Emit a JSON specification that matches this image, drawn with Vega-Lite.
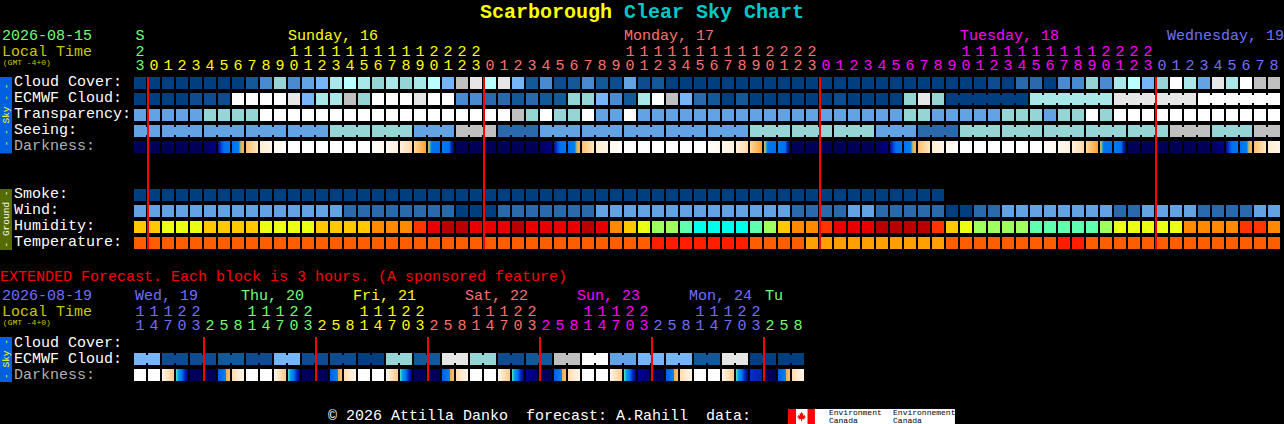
{
"$schema":"https://vega.github.io/schema/vega-lite/v6.json",
"width":1284,"height":424,"padding":0,"autosize":{"type":"none"},"background":"#000000",
"config":{"view":{"stroke":null},"text":{"font":"Liberation Mono"}},
"datasets":{
"boxes":[
{"col":-10,"col2":-9.143,"row":-0.375,"row2":4.4,"tone":"skybar"},
{"col":-10,"col2":-9.143,"row":6.625,"row2":10.44,"tone":"groundbar"},
{"col":-10,"col2":-9.143,"row":15.875,"row2":18.69,"tone":"skybar"},
{"col":46.29,"col2":58.21,"row":20.375,"row2":21.3125,"tone":"K"},
{"col":46.29,"col2":46.86,"row":20.375,"row2":21.3125,"tone":"red"},
{"col":47.68,"col2":48.21,"row":20.375,"row2":21.3125,"tone":"red"}],
"rules":[
{"col":1,"row":-0.375,"row2":10.375,"tone":"red"},{"col":25,"row":-0.375,"row2":10.375,"tone":"red"},{"col":49,"row":-0.375,"row2":10.375,"tone":"red"},{"col":73,"row":-0.375,"row2":10.375,"tone":"red"},
{"col":5,"row":15.875,"row2":18.625,"tone":"red"},{"col":13,"row":15.875,"row2":18.625,"tone":"red"},{"col":21,"row":15.875,"row2":18.625,"tone":"red"},{"col":29,"row":15.875,"row2":18.625,"tone":"red"},{"col":37,"row":15.875,"row2":18.625,"tone":"red"},{"col":45,"row":15.875,"row2":18.625,"tone":"red"}],
"links":[
{"row":3,"col":0,"tone":"F"},{"row":3,"col":2,"tone":"F"},{"row":3,"col":3,"tone":"F"},{"row":3,"col":5,"tone":"F"},{"row":3,"col":6,"tone":"F"},{"row":3,"col":8,"tone":"F"},{"row":3,"col":9,"tone":"F"},{"row":3,"col":11,"tone":"F"},{"row":3,"col":12,"tone":"F"},{"row":3,"col":14,"tone":"H"},{"row":3,"col":15,"tone":"H"},{"row":3,"col":17,"tone":"H"},{"row":3,"col":18,"tone":"H"},{"row":3,"col":20,"tone":"F"},{"row":3,"col":21,"tone":"F"},{"row":3,"col":23,"tone":"M"},{"row":3,"col":24,"tone":"M"},{"row":3,"col":26,"tone":"D"},{"row":3,"col":27,"tone":"D"},{"row":3,"col":29,"tone":"F"},{"row":3,"col":30,"tone":"F"},{"row":3,"col":32,"tone":"F"},{"row":3,"col":33,"tone":"F"},{"row":3,"col":35,"tone":"F"},{"row":3,"col":36,"tone":"F"},{"row":3,"col":38,"tone":"F"},{"row":3,"col":39,"tone":"F"},{"row":3,"col":41,"tone":"F"},{"row":3,"col":42,"tone":"F"},{"row":3,"col":44,"tone":"H"},{"row":3,"col":45,"tone":"H"},{"row":3,"col":47,"tone":"H"},{"row":3,"col":48,"tone":"H"},{"row":3,"col":50,"tone":"H"},{"row":3,"col":51,"tone":"H"},{"row":3,"col":53,"tone":"F"},{"row":3,"col":54,"tone":"F"},{"row":3,"col":56,"tone":"D"},{"row":3,"col":57,"tone":"D"},{"row":3,"col":59,"tone":"H"},{"row":3,"col":60,"tone":"H"},{"row":3,"col":62,"tone":"H"},{"row":3,"col":63,"tone":"H"},{"row":3,"col":65,"tone":"H"},{"row":3,"col":66,"tone":"H"},{"row":3,"col":68,"tone":"H"},{"row":3,"col":69,"tone":"H"},{"row":3,"col":71,"tone":"H"},{"row":3,"col":72,"tone":"H"},{"row":3,"col":74,"tone":"M"},{"row":3,"col":75,"tone":"M"},{"row":3,"col":77,"tone":"H"},{"row":3,"col":78,"tone":"H"},{"row":3,"col":80,"tone":"M"},
{"row":1,"col":58,"tone":"A"},{"row":1,"col":59,"tone":"A"},{"row":1,"col":60,"tone":"A"},{"row":1,"col":61,"tone":"A"},{"row":1,"col":62,"tone":"A"},{"row":1,"col":64,"tone":"I"},{"row":1,"col":65,"tone":"I"},{"row":1,"col":66,"tone":"I"},{"row":1,"col":67,"tone":"I"},{"row":1,"col":68,"tone":"I"},{"row":1,"col":70,"tone":"L"},{"row":1,"col":71,"tone":"L"},{"row":1,"col":72,"tone":"L"},{"row":1,"col":73,"tone":"L"},{"row":1,"col":74,"tone":"L"},{"row":1,"col":76,"tone":"K"},{"row":1,"col":77,"tone":"K"},{"row":1,"col":78,"tone":"K"},{"row":1,"col":79,"tone":"K"},{"row":1,"col":80,"tone":"K"},
{"row":17.25,"col":0,"tone":"G"},{"row":17.25,"col":2,"tone":"B"},{"row":17.25,"col":4,"tone":"B"},{"row":17.25,"col":6,"tone":"C"},{"row":17.25,"col":8,"tone":"B"},{"row":17.25,"col":10,"tone":"G"},{"row":17.25,"col":12,"tone":"B"},{"row":17.25,"col":14,"tone":"B"},{"row":17.25,"col":16,"tone":"A"},{"row":17.25,"col":18,"tone":"H"},{"row":17.25,"col":20,"tone":"C"},{"row":17.25,"col":22,"tone":"L"},{"row":17.25,"col":24,"tone":"H"},{"row":17.25,"col":26,"tone":"B"},{"row":17.25,"col":28,"tone":"C"},{"row":17.25,"col":30,"tone":"M"},{"row":17.25,"col":32,"tone":"K"},{"row":17.25,"col":34,"tone":"F"},{"row":17.25,"col":36,"tone":"G"},{"row":17.25,"col":38,"tone":"G"},{"row":17.25,"col":40,"tone":"C"},{"row":17.25,"col":42,"tone":"L"},{"row":17.25,"col":44,"tone":"A"},{"row":17.25,"col":46,"tone":"A"}],
"cells":[
{"row":0,"col":0,"tone":"A"},{"row":0,"col":1,"tone":"A"},{"row":0,"col":2,"tone":"A"},{"row":0,"col":3,"tone":"A"},{"row":0,"col":4,"tone":"A"},{"row":0,"col":5,"tone":"A"},{"row":0,"col":6,"tone":"A"},{"row":0,"col":7,"tone":"A"},{"row":0,"col":8,"tone":"C"},{"row":0,"col":9,"tone":"E"},{"row":0,"col":10,"tone":"H"},{"row":0,"col":11,"tone":"E"},{"row":0,"col":12,"tone":"F"},{"row":0,"col":13,"tone":"G"},{"row":0,"col":14,"tone":"I"},{"row":0,"col":15,"tone":"J"},{"row":0,"col":16,"tone":"I"},{"row":0,"col":17,"tone":"H"},{"row":0,"col":18,"tone":"I"},{"row":0,"col":19,"tone":"H"},{"row":0,"col":20,"tone":"I"},{"row":0,"col":21,"tone":"J"},{"row":0,"col":22,"tone":"G"},{"row":0,"col":23,"tone":"M"},{"row":0,"col":24,"tone":"L"},{"row":0,"col":25,"tone":"J"},{"row":0,"col":26,"tone":"L"},{"row":0,"col":27,"tone":"G"},{"row":0,"col":28,"tone":"C"},{"row":0,"col":29,"tone":"E"},{"row":0,"col":30,"tone":"B"},{"row":0,"col":31,"tone":"C"},{"row":0,"col":32,"tone":"E"},{"row":0,"col":33,"tone":"C"},{"row":0,"col":34,"tone":"B"},{"row":0,"col":35,"tone":"F"},{"row":0,"col":36,"tone":"B"},{"row":0,"col":37,"tone":"C"},{"row":0,"col":38,"tone":"A"},{"row":0,"col":39,"tone":"A"},{"row":0,"col":40,"tone":"A"},{"row":0,"col":41,"tone":"A"},{"row":0,"col":42,"tone":"A"},{"row":0,"col":43,"tone":"A"},{"row":0,"col":44,"tone":"A"},{"row":0,"col":45,"tone":"A"},{"row":0,"col":46,"tone":"A"},{"row":0,"col":47,"tone":"A"},{"row":0,"col":48,"tone":"A"},{"row":0,"col":49,"tone":"A"},{"row":0,"col":50,"tone":"A"},{"row":0,"col":51,"tone":"A"},{"row":0,"col":52,"tone":"A"},{"row":0,"col":53,"tone":"A"},{"row":0,"col":54,"tone":"A"},{"row":0,"col":55,"tone":"A"},{"row":0,"col":56,"tone":"A"},{"row":0,"col":57,"tone":"A"},{"row":0,"col":58,"tone":"A"},{"row":0,"col":59,"tone":"A"},{"row":0,"col":60,"tone":"A"},{"row":0,"col":61,"tone":"B"},{"row":0,"col":62,"tone":"A"},{"row":0,"col":63,"tone":"D"},{"row":0,"col":64,"tone":"D"},{"row":0,"col":65,"tone":"A"},{"row":0,"col":66,"tone":"E"},{"row":0,"col":67,"tone":"E"},{"row":0,"col":68,"tone":"H"},{"row":0,"col":69,"tone":"E"},{"row":0,"col":70,"tone":"I"},{"row":0,"col":71,"tone":"J"},{"row":0,"col":72,"tone":"G"},{"row":0,"col":73,"tone":"H"},{"row":0,"col":74,"tone":"K"},{"row":0,"col":75,"tone":"I"},{"row":0,"col":76,"tone":"F"},{"row":0,"col":77,"tone":"L"},{"row":0,"col":78,"tone":"I"},{"row":0,"col":79,"tone":"K"},{"row":0,"col":80,"tone":"M"},{"row":0,"col":81,"tone":"M"},
{"row":1,"col":0,"tone":"A"},{"row":1,"col":1,"tone":"A"},{"row":1,"col":2,"tone":"A"},{"row":1,"col":3,"tone":"A"},{"row":1,"col":4,"tone":"B"},{"row":1,"col":5,"tone":"B"},{"row":1,"col":6,"tone":"B"},{"row":1,"col":7,"tone":"K"},{"row":1,"col":8,"tone":"K"},{"row":1,"col":9,"tone":"K"},{"row":1,"col":10,"tone":"K"},{"row":1,"col":11,"tone":"L"},{"row":1,"col":12,"tone":"G"},{"row":1,"col":13,"tone":"I"},{"row":1,"col":14,"tone":"I"},{"row":1,"col":15,"tone":"M"},{"row":1,"col":16,"tone":"H"},{"row":1,"col":17,"tone":"K"},{"row":1,"col":18,"tone":"K"},{"row":1,"col":19,"tone":"K"},{"row":1,"col":20,"tone":"L"},{"row":1,"col":21,"tone":"K"},{"row":1,"col":22,"tone":"K"},{"row":1,"col":23,"tone":"E"},{"row":1,"col":24,"tone":"E"},{"row":1,"col":25,"tone":"D"},{"row":1,"col":26,"tone":"D"},{"row":1,"col":27,"tone":"C"},{"row":1,"col":28,"tone":"D"},{"row":1,"col":29,"tone":"C"},{"row":1,"col":30,"tone":"C"},{"row":1,"col":31,"tone":"H"},{"row":1,"col":32,"tone":"H"},{"row":1,"col":33,"tone":"G"},{"row":1,"col":34,"tone":"E"},{"row":1,"col":35,"tone":"C"},{"row":1,"col":36,"tone":"I"},{"row":1,"col":37,"tone":"K"},{"row":1,"col":38,"tone":"M"},{"row":1,"col":39,"tone":"G"},{"row":1,"col":40,"tone":"D"},{"row":1,"col":41,"tone":"C"},{"row":1,"col":42,"tone":"A"},{"row":1,"col":43,"tone":"C"},{"row":1,"col":44,"tone":"A"},{"row":1,"col":45,"tone":"A"},{"row":1,"col":46,"tone":"A"},{"row":1,"col":47,"tone":"A"},{"row":1,"col":48,"tone":"A"},{"row":1,"col":49,"tone":"A"},{"row":1,"col":50,"tone":"B"},{"row":1,"col":51,"tone":"A"},{"row":1,"col":52,"tone":"A"},{"row":1,"col":53,"tone":"A"},{"row":1,"col":54,"tone":"A"},{"row":1,"col":55,"tone":"H"},{"row":1,"col":56,"tone":"L"},{"row":1,"col":57,"tone":"H"},{"row":1,"col":58,"tone":"A"},{"row":1,"col":59,"tone":"A"},{"row":1,"col":60,"tone":"A"},{"row":1,"col":61,"tone":"A"},{"row":1,"col":62,"tone":"A"},{"row":1,"col":63,"tone":"A"},{"row":1,"col":64,"tone":"I"},{"row":1,"col":65,"tone":"I"},{"row":1,"col":66,"tone":"I"},{"row":1,"col":67,"tone":"I"},{"row":1,"col":68,"tone":"I"},{"row":1,"col":69,"tone":"I"},{"row":1,"col":70,"tone":"L"},{"row":1,"col":71,"tone":"L"},{"row":1,"col":72,"tone":"L"},{"row":1,"col":73,"tone":"L"},{"row":1,"col":74,"tone":"L"},{"row":1,"col":75,"tone":"L"},{"row":1,"col":76,"tone":"K"},{"row":1,"col":77,"tone":"K"},{"row":1,"col":78,"tone":"K"},{"row":1,"col":79,"tone":"K"},{"row":1,"col":80,"tone":"K"},{"row":1,"col":81,"tone":"K"},
{"row":2,"col":0,"tone":"F"},{"row":2,"col":1,"tone":"F"},{"row":2,"col":2,"tone":"F"},{"row":2,"col":3,"tone":"F"},{"row":2,"col":4,"tone":"F"},{"row":2,"col":5,"tone":"H"},{"row":2,"col":6,"tone":"H"},{"row":2,"col":7,"tone":"H"},{"row":2,"col":8,"tone":"H"},{"row":2,"col":9,"tone":"K"},{"row":2,"col":10,"tone":"K"},{"row":2,"col":11,"tone":"K"},{"row":2,"col":12,"tone":"K"},{"row":2,"col":13,"tone":"K"},{"row":2,"col":14,"tone":"K"},{"row":2,"col":15,"tone":"K"},{"row":2,"col":16,"tone":"K"},{"row":2,"col":17,"tone":"K"},{"row":2,"col":18,"tone":"K"},{"row":2,"col":19,"tone":"K"},{"row":2,"col":20,"tone":"K"},{"row":2,"col":21,"tone":"K"},{"row":2,"col":22,"tone":"K"},{"row":2,"col":23,"tone":"K"},{"row":2,"col":24,"tone":"K"},{"row":2,"col":25,"tone":"K"},{"row":2,"col":26,"tone":"K"},{"row":2,"col":27,"tone":"M"},{"row":2,"col":28,"tone":"H"},{"row":2,"col":29,"tone":"K"},{"row":2,"col":30,"tone":"H"},{"row":2,"col":31,"tone":"H"},{"row":2,"col":32,"tone":"K"},{"row":2,"col":33,"tone":"F"},{"row":2,"col":34,"tone":"F"},{"row":2,"col":35,"tone":"K"},{"row":2,"col":36,"tone":"F"},{"row":2,"col":37,"tone":"F"},{"row":2,"col":38,"tone":"F"},{"row":2,"col":39,"tone":"F"},{"row":2,"col":40,"tone":"F"},{"row":2,"col":41,"tone":"F"},{"row":2,"col":42,"tone":"F"},{"row":2,"col":43,"tone":"F"},{"row":2,"col":44,"tone":"F"},{"row":2,"col":45,"tone":"F"},{"row":2,"col":46,"tone":"F"},{"row":2,"col":47,"tone":"F"},{"row":2,"col":48,"tone":"F"},{"row":2,"col":49,"tone":"F"},{"row":2,"col":50,"tone":"F"},{"row":2,"col":51,"tone":"F"},{"row":2,"col":52,"tone":"F"},{"row":2,"col":53,"tone":"F"},{"row":2,"col":54,"tone":"F"},{"row":2,"col":55,"tone":"H"},{"row":2,"col":56,"tone":"H"},{"row":2,"col":57,"tone":"F"},{"row":2,"col":58,"tone":"F"},{"row":2,"col":59,"tone":"F"},{"row":2,"col":60,"tone":"F"},{"row":2,"col":61,"tone":"F"},{"row":2,"col":62,"tone":"H"},{"row":2,"col":63,"tone":"H"},{"row":2,"col":64,"tone":"H"},{"row":2,"col":65,"tone":"F"},{"row":2,"col":66,"tone":"H"},{"row":2,"col":67,"tone":"H"},{"row":2,"col":68,"tone":"K"},{"row":2,"col":69,"tone":"H"},{"row":2,"col":70,"tone":"K"},{"row":2,"col":71,"tone":"K"},{"row":2,"col":72,"tone":"K"},{"row":2,"col":73,"tone":"K"},{"row":2,"col":74,"tone":"K"},{"row":2,"col":75,"tone":"K"},{"row":2,"col":76,"tone":"K"},{"row":2,"col":77,"tone":"K"},{"row":2,"col":78,"tone":"K"},{"row":2,"col":79,"tone":"K"},{"row":2,"col":80,"tone":"K"},{"row":2,"col":81,"tone":"K"},
{"row":3,"col":0,"tone":"F"},{"row":3,"col":1,"tone":"F"},{"row":3,"col":2,"tone":"F"},{"row":3,"col":3,"tone":"F"},{"row":3,"col":4,"tone":"F"},{"row":3,"col":5,"tone":"F"},{"row":3,"col":6,"tone":"F"},{"row":3,"col":7,"tone":"F"},{"row":3,"col":8,"tone":"F"},{"row":3,"col":9,"tone":"F"},{"row":3,"col":10,"tone":"F"},{"row":3,"col":11,"tone":"F"},{"row":3,"col":12,"tone":"F"},{"row":3,"col":13,"tone":"F"},{"row":3,"col":14,"tone":"H"},{"row":3,"col":15,"tone":"H"},{"row":3,"col":16,"tone":"H"},{"row":3,"col":17,"tone":"H"},{"row":3,"col":18,"tone":"H"},{"row":3,"col":19,"tone":"H"},{"row":3,"col":20,"tone":"F"},{"row":3,"col":21,"tone":"F"},{"row":3,"col":22,"tone":"F"},{"row":3,"col":23,"tone":"M"},{"row":3,"col":24,"tone":"M"},{"row":3,"col":25,"tone":"M"},{"row":3,"col":26,"tone":"D"},{"row":3,"col":27,"tone":"D"},{"row":3,"col":28,"tone":"D"},{"row":3,"col":29,"tone":"F"},{"row":3,"col":30,"tone":"F"},{"row":3,"col":31,"tone":"F"},{"row":3,"col":32,"tone":"F"},{"row":3,"col":33,"tone":"F"},{"row":3,"col":34,"tone":"F"},{"row":3,"col":35,"tone":"F"},{"row":3,"col":36,"tone":"F"},{"row":3,"col":37,"tone":"F"},{"row":3,"col":38,"tone":"F"},{"row":3,"col":39,"tone":"F"},{"row":3,"col":40,"tone":"F"},{"row":3,"col":41,"tone":"F"},{"row":3,"col":42,"tone":"F"},{"row":3,"col":43,"tone":"F"},{"row":3,"col":44,"tone":"H"},{"row":3,"col":45,"tone":"H"},{"row":3,"col":46,"tone":"H"},{"row":3,"col":47,"tone":"H"},{"row":3,"col":48,"tone":"H"},{"row":3,"col":49,"tone":"H"},{"row":3,"col":50,"tone":"H"},{"row":3,"col":51,"tone":"H"},{"row":3,"col":52,"tone":"H"},{"row":3,"col":53,"tone":"F"},{"row":3,"col":54,"tone":"F"},{"row":3,"col":55,"tone":"F"},{"row":3,"col":56,"tone":"D"},{"row":3,"col":57,"tone":"D"},{"row":3,"col":58,"tone":"D"},{"row":3,"col":59,"tone":"H"},{"row":3,"col":60,"tone":"H"},{"row":3,"col":61,"tone":"H"},{"row":3,"col":62,"tone":"H"},{"row":3,"col":63,"tone":"H"},{"row":3,"col":64,"tone":"H"},{"row":3,"col":65,"tone":"H"},{"row":3,"col":66,"tone":"H"},{"row":3,"col":67,"tone":"H"},{"row":3,"col":68,"tone":"H"},{"row":3,"col":69,"tone":"H"},{"row":3,"col":70,"tone":"H"},{"row":3,"col":71,"tone":"H"},{"row":3,"col":72,"tone":"H"},{"row":3,"col":73,"tone":"H"},{"row":3,"col":74,"tone":"M"},{"row":3,"col":75,"tone":"M"},{"row":3,"col":76,"tone":"M"},{"row":3,"col":77,"tone":"H"},{"row":3,"col":78,"tone":"H"},{"row":3,"col":79,"tone":"H"},{"row":3,"col":80,"tone":"M"},{"row":3,"col":81,"tone":"M"},
{"row":4,"col":0,"tone":"n"},{"row":4,"col":1,"tone":"n"},{"row":4,"col":2,"tone":"n"},{"row":4,"col":3,"tone":"n"},{"row":4,"col":4,"tone":"n"},{"row":4,"col":5,"tone":"n1"},{"row":4,"col":6,"tone":"d1"},{"row":4,"col":7,"tone":"d2"},{"row":4,"col":8,"tone":"d3"},{"row":4,"col":9,"tone":"d4"},{"row":4,"col":10,"tone":"d5"},{"row":4,"col":11,"tone":"K"},{"row":4,"col":12,"tone":"K"},{"row":4,"col":13,"tone":"K"},{"row":4,"col":14,"tone":"K"},{"row":4,"col":15,"tone":"K"},{"row":4,"col":16,"tone":"K"},{"row":4,"col":17,"tone":"s1"},{"row":4,"col":18,"tone":"s2"},{"row":4,"col":19,"tone":"s3"},{"row":4,"col":20,"tone":"s4"},{"row":4,"col":21,"tone":"s5"},{"row":4,"col":22,"tone":"s6"},{"row":4,"col":23,"tone":"n"},
{"row":4,"col":24,"tone":"n"},{"row":4,"col":25,"tone":"n"},{"row":4,"col":26,"tone":"n"},{"row":4,"col":27,"tone":"n"},{"row":4,"col":28,"tone":"n"},{"row":4,"col":29,"tone":"n1"},{"row":4,"col":30,"tone":"d1"},{"row":4,"col":31,"tone":"d2"},{"row":4,"col":32,"tone":"d3"},{"row":4,"col":33,"tone":"d4"},{"row":4,"col":34,"tone":"d5"},{"row":4,"col":35,"tone":"K"},{"row":4,"col":36,"tone":"K"},{"row":4,"col":37,"tone":"K"},{"row":4,"col":38,"tone":"K"},{"row":4,"col":39,"tone":"K"},{"row":4,"col":40,"tone":"K"},{"row":4,"col":41,"tone":"s1"},{"row":4,"col":42,"tone":"s2"},{"row":4,"col":43,"tone":"s3"},{"row":4,"col":44,"tone":"s4"},{"row":4,"col":45,"tone":"s5"},{"row":4,"col":46,"tone":"s6"},{"row":4,"col":47,"tone":"n"},
{"row":4,"col":48,"tone":"n"},{"row":4,"col":49,"tone":"n"},{"row":4,"col":50,"tone":"n"},{"row":4,"col":51,"tone":"n"},{"row":4,"col":52,"tone":"n"},{"row":4,"col":53,"tone":"n1"},{"row":4,"col":54,"tone":"d1"},{"row":4,"col":55,"tone":"d2"},{"row":4,"col":56,"tone":"d3"},{"row":4,"col":57,"tone":"d4"},{"row":4,"col":58,"tone":"d5"},{"row":4,"col":59,"tone":"K"},{"row":4,"col":60,"tone":"K"},{"row":4,"col":61,"tone":"K"},{"row":4,"col":62,"tone":"K"},{"row":4,"col":63,"tone":"K"},{"row":4,"col":64,"tone":"K"},{"row":4,"col":65,"tone":"s1"},{"row":4,"col":66,"tone":"s2"},{"row":4,"col":67,"tone":"s3"},{"row":4,"col":68,"tone":"s4"},{"row":4,"col":69,"tone":"s5"},{"row":4,"col":70,"tone":"s6"},{"row":4,"col":71,"tone":"n"},
{"row":4,"col":72,"tone":"n"},{"row":4,"col":73,"tone":"n"},{"row":4,"col":74,"tone":"n"},{"row":4,"col":75,"tone":"n"},{"row":4,"col":76,"tone":"n"},{"row":4,"col":77,"tone":"n1"},{"row":4,"col":78,"tone":"d1"},{"row":4,"col":79,"tone":"d2"},{"row":4,"col":80,"tone":"d3"},{"row":4,"col":81,"tone":"d4"},
{"row":7,"col":0,"tone":"A"},{"row":7,"col":1,"tone":"A"},{"row":7,"col":2,"tone":"A"},{"row":7,"col":3,"tone":"A"},{"row":7,"col":4,"tone":"A"},{"row":7,"col":5,"tone":"A"},{"row":7,"col":6,"tone":"A"},{"row":7,"col":7,"tone":"A"},{"row":7,"col":8,"tone":"A"},{"row":7,"col":9,"tone":"A"},{"row":7,"col":10,"tone":"A"},{"row":7,"col":11,"tone":"A"},{"row":7,"col":12,"tone":"A"},{"row":7,"col":13,"tone":"A"},{"row":7,"col":14,"tone":"A"},{"row":7,"col":15,"tone":"A"},{"row":7,"col":16,"tone":"A"},{"row":7,"col":17,"tone":"A"},{"row":7,"col":18,"tone":"A"},{"row":7,"col":19,"tone":"A"},{"row":7,"col":20,"tone":"A"},{"row":7,"col":21,"tone":"A"},{"row":7,"col":22,"tone":"A"},{"row":7,"col":23,"tone":"A"},{"row":7,"col":24,"tone":"A"},{"row":7,"col":25,"tone":"A"},{"row":7,"col":26,"tone":"A"},{"row":7,"col":27,"tone":"A"},{"row":7,"col":28,"tone":"A"},{"row":7,"col":29,"tone":"A"},{"row":7,"col":30,"tone":"A"},{"row":7,"col":31,"tone":"A"},{"row":7,"col":32,"tone":"A"},{"row":7,"col":33,"tone":"A"},{"row":7,"col":34,"tone":"A"},{"row":7,"col":35,"tone":"A"},{"row":7,"col":36,"tone":"A"},{"row":7,"col":37,"tone":"A"},{"row":7,"col":38,"tone":"A"},{"row":7,"col":39,"tone":"A"},{"row":7,"col":40,"tone":"A"},{"row":7,"col":41,"tone":"A"},{"row":7,"col":42,"tone":"A"},{"row":7,"col":43,"tone":"A"},{"row":7,"col":44,"tone":"A"},{"row":7,"col":45,"tone":"A"},{"row":7,"col":46,"tone":"A"},{"row":7,"col":47,"tone":"A"},{"row":7,"col":48,"tone":"A"},{"row":7,"col":49,"tone":"A"},{"row":7,"col":50,"tone":"A"},{"row":7,"col":51,"tone":"A"},{"row":7,"col":52,"tone":"A"},{"row":7,"col":53,"tone":"A"},{"row":7,"col":54,"tone":"A"},{"row":7,"col":55,"tone":"A"},{"row":7,"col":56,"tone":"A"},{"row":7,"col":57,"tone":"A"},
{"row":8,"col":0,"tone":"F"},{"row":8,"col":1,"tone":"F"},{"row":8,"col":2,"tone":"F"},{"row":8,"col":3,"tone":"F"},{"row":8,"col":4,"tone":"F"},{"row":8,"col":5,"tone":"F"},{"row":8,"col":6,"tone":"F"},{"row":8,"col":7,"tone":"F"},{"row":8,"col":8,"tone":"F"},{"row":8,"col":9,"tone":"F"},{"row":8,"col":10,"tone":"F"},{"row":8,"col":11,"tone":"F"},{"row":8,"col":12,"tone":"F"},{"row":8,"col":13,"tone":"F"},{"row":8,"col":14,"tone":"F"},{"row":8,"col":15,"tone":"D"},{"row":8,"col":16,"tone":"D"},{"row":8,"col":17,"tone":"D"},{"row":8,"col":18,"tone":"D"},{"row":8,"col":19,"tone":"D"},{"row":8,"col":20,"tone":"D"},{"row":8,"col":21,"tone":"D"},{"row":8,"col":22,"tone":"D"},{"row":8,"col":23,"tone":"A"},{"row":8,"col":24,"tone":"A"},{"row":8,"col":25,"tone":"A"},{"row":8,"col":26,"tone":"D"},{"row":8,"col":27,"tone":"D"},{"row":8,"col":28,"tone":"D"},{"row":8,"col":29,"tone":"D"},{"row":8,"col":30,"tone":"D"},{"row":8,"col":31,"tone":"D"},{"row":8,"col":32,"tone":"D"},{"row":8,"col":33,"tone":"F"},{"row":8,"col":34,"tone":"F"},{"row":8,"col":35,"tone":"F"},{"row":8,"col":36,"tone":"F"},{"row":8,"col":37,"tone":"F"},{"row":8,"col":38,"tone":"F"},{"row":8,"col":39,"tone":"F"},{"row":8,"col":40,"tone":"F"},{"row":8,"col":41,"tone":"F"},{"row":8,"col":42,"tone":"F"},{"row":8,"col":43,"tone":"F"},{"row":8,"col":44,"tone":"F"},{"row":8,"col":45,"tone":"F"},{"row":8,"col":46,"tone":"F"},{"row":8,"col":47,"tone":"D"},{"row":8,"col":48,"tone":"D"},{"row":8,"col":49,"tone":"D"},{"row":8,"col":50,"tone":"D"},{"row":8,"col":51,"tone":"F"},{"row":8,"col":52,"tone":"F"},{"row":8,"col":53,"tone":"D"},{"row":8,"col":54,"tone":"D"},{"row":8,"col":55,"tone":"D"},{"row":8,"col":56,"tone":"D"},{"row":8,"col":57,"tone":"D"},{"row":8,"col":58,"tone":"A"},{"row":8,"col":59,"tone":"A"},{"row":8,"col":60,"tone":"D"},{"row":8,"col":61,"tone":"D"},{"row":8,"col":62,"tone":"F"},{"row":8,"col":63,"tone":"F"},{"row":8,"col":64,"tone":"F"},{"row":8,"col":65,"tone":"F"},{"row":8,"col":66,"tone":"F"},{"row":8,"col":67,"tone":"F"},{"row":8,"col":68,"tone":"F"},{"row":8,"col":69,"tone":"F"},{"row":8,"col":70,"tone":"D"},{"row":8,"col":71,"tone":"D"},{"row":8,"col":72,"tone":"F"},{"row":8,"col":73,"tone":"F"},{"row":8,"col":74,"tone":"F"},{"row":8,"col":75,"tone":"F"},{"row":8,"col":76,"tone":"D"},{"row":8,"col":77,"tone":"D"},{"row":8,"col":78,"tone":"D"},{"row":8,"col":79,"tone":"D"},{"row":8,"col":80,"tone":"F"},{"row":8,"col":81,"tone":"F"},
{"row":9,"col":0,"tone":"yo"},{"row":9,"col":1,"tone":"yo"},{"row":9,"col":2,"tone":"ye"},{"row":9,"col":3,"tone":"ye"},{"row":9,"col":4,"tone":"ye"},{"row":9,"col":5,"tone":"yo"},{"row":9,"col":6,"tone":"yo"},{"row":9,"col":7,"tone":"yo"},{"row":9,"col":8,"tone":"yo"},{"row":9,"col":9,"tone":"ye"},{"row":9,"col":10,"tone":"ye"},{"row":9,"col":11,"tone":"ye"},{"row":9,"col":12,"tone":"ye"},{"row":9,"col":13,"tone":"yo"},{"row":9,"col":14,"tone":"yo"},{"row":9,"col":15,"tone":"yo"},{"row":9,"col":16,"tone":"yo"},{"row":9,"col":17,"tone":"o"},{"row":9,"col":18,"tone":"o"},{"row":9,"col":19,"tone":"o"},{"row":9,"col":20,"tone":"ro"},{"row":9,"col":21,"tone":"r"},{"row":9,"col":22,"tone":"dr"},{"row":9,"col":23,"tone":"dr"},{"row":9,"col":24,"tone":"r"},{"row":9,"col":25,"tone":"r"},{"row":9,"col":26,"tone":"r"},{"row":9,"col":27,"tone":"dr"},{"row":9,"col":28,"tone":"r"},{"row":9,"col":29,"tone":"r"},{"row":9,"col":30,"tone":"r"},{"row":9,"col":31,"tone":"r"},{"row":9,"col":32,"tone":"dr"},{"row":9,"col":33,"tone":"r"},{"row":9,"col":34,"tone":"o"},{"row":9,"col":35,"tone":"yo"},{"row":9,"col":36,"tone":"ye"},{"row":9,"col":37,"tone":"lg"},{"row":9,"col":38,"tone":"lg"},{"row":9,"col":39,"tone":"mt"},{"row":9,"col":40,"tone":"cy"},{"row":9,"col":41,"tone":"cy"},{"row":9,"col":42,"tone":"cy"},{"row":9,"col":43,"tone":"cy"},{"row":9,"col":44,"tone":"mt"},{"row":9,"col":45,"tone":"lg"},{"row":9,"col":46,"tone":"yo"},{"row":9,"col":47,"tone":"o"},{"row":9,"col":48,"tone":"o"},{"row":9,"col":49,"tone":"ro"},{"row":9,"col":50,"tone":"r"},{"row":9,"col":51,"tone":"r"},{"row":9,"col":52,"tone":"r"},{"row":9,"col":53,"tone":"dr"},{"row":9,"col":54,"tone":"dr"},{"row":9,"col":55,"tone":"dr"},{"row":9,"col":56,"tone":"dr"},{"row":9,"col":57,"tone":"ro"},{"row":9,"col":58,"tone":"yo"},{"row":9,"col":59,"tone":"ye"},{"row":9,"col":60,"tone":"lg"},{"row":9,"col":61,"tone":"lg"},{"row":9,"col":62,"tone":"lg"},{"row":9,"col":63,"tone":"lg"},{"row":9,"col":64,"tone":"mt"},{"row":9,"col":65,"tone":"mt"},{"row":9,"col":66,"tone":"mt"},{"row":9,"col":67,"tone":"mt"},{"row":9,"col":68,"tone":"mt"},{"row":9,"col":69,"tone":"lg"},{"row":9,"col":70,"tone":"ye"},{"row":9,"col":71,"tone":"ye"},{"row":9,"col":72,"tone":"ye"},{"row":9,"col":73,"tone":"ye"},{"row":9,"col":74,"tone":"ye"},{"row":9,"col":75,"tone":"o"},{"row":9,"col":76,"tone":"o"},{"row":9,"col":77,"tone":"o"},{"row":9,"col":78,"tone":"o"},{"row":9,"col":79,"tone":"ro"},{"row":9,"col":80,"tone":"ro"},{"row":9,"col":81,"tone":"o"},
{"row":10,"col":0,"tone":"t1"},{"row":10,"col":1,"tone":"t1"},{"row":10,"col":2,"tone":"t1"},{"row":10,"col":3,"tone":"t1"},{"row":10,"col":4,"tone":"t1"},{"row":10,"col":5,"tone":"t1"},{"row":10,"col":6,"tone":"t1"},{"row":10,"col":7,"tone":"t1"},{"row":10,"col":8,"tone":"t1"},{"row":10,"col":9,"tone":"t1"},{"row":10,"col":10,"tone":"t1"},{"row":10,"col":11,"tone":"t1"},{"row":10,"col":12,"tone":"t1"},{"row":10,"col":13,"tone":"t1"},{"row":10,"col":14,"tone":"t1"},{"row":10,"col":15,"tone":"t1"},{"row":10,"col":16,"tone":"t1"},{"row":10,"col":17,"tone":"t1"},{"row":10,"col":18,"tone":"t1"},{"row":10,"col":19,"tone":"t1"},{"row":10,"col":20,"tone":"t1"},{"row":10,"col":21,"tone":"t1"},{"row":10,"col":22,"tone":"t1"},{"row":10,"col":23,"tone":"t1"},{"row":10,"col":24,"tone":"t1"},{"row":10,"col":25,"tone":"t1"},{"row":10,"col":26,"tone":"t1"},{"row":10,"col":27,"tone":"t1"},{"row":10,"col":28,"tone":"t1"},{"row":10,"col":29,"tone":"t1"},{"row":10,"col":30,"tone":"t1"},{"row":10,"col":31,"tone":"t1"},{"row":10,"col":32,"tone":"t1"},{"row":10,"col":33,"tone":"t1"},{"row":10,"col":34,"tone":"t1"},{"row":10,"col":35,"tone":"t1"},{"row":10,"col":36,"tone":"t1"},{"row":10,"col":37,"tone":"t2"},{"row":10,"col":38,"tone":"t2"},{"row":10,"col":39,"tone":"t2"},{"row":10,"col":40,"tone":"t2"},{"row":10,"col":41,"tone":"t2"},{"row":10,"col":42,"tone":"t2"},{"row":10,"col":43,"tone":"t2"},{"row":10,"col":44,"tone":"t1"},{"row":10,"col":45,"tone":"t1"},{"row":10,"col":46,"tone":"t1"},{"row":10,"col":47,"tone":"t1"},{"row":10,"col":48,"tone":"t3"},{"row":10,"col":49,"tone":"t3"},{"row":10,"col":50,"tone":"t3"},{"row":10,"col":51,"tone":"t3"},{"row":10,"col":52,"tone":"t3"},{"row":10,"col":53,"tone":"t3"},{"row":10,"col":54,"tone":"t3"},{"row":10,"col":55,"tone":"t3"},{"row":10,"col":56,"tone":"t3"},{"row":10,"col":57,"tone":"t3"},{"row":10,"col":58,"tone":"t1"},{"row":10,"col":59,"tone":"t1"},{"row":10,"col":60,"tone":"t1"},{"row":10,"col":61,"tone":"t1"},{"row":10,"col":62,"tone":"t1"},{"row":10,"col":63,"tone":"t1"},{"row":10,"col":64,"tone":"t1"},{"row":10,"col":65,"tone":"t1"},{"row":10,"col":66,"tone":"t2"},{"row":10,"col":67,"tone":"t2"},{"row":10,"col":68,"tone":"t1"},{"row":10,"col":69,"tone":"t1"},{"row":10,"col":70,"tone":"t1"},{"row":10,"col":71,"tone":"t1"},{"row":10,"col":72,"tone":"t1"},{"row":10,"col":73,"tone":"t1"},{"row":10,"col":74,"tone":"t1"},{"row":10,"col":75,"tone":"t1"},{"row":10,"col":76,"tone":"t1"},{"row":10,"col":77,"tone":"t1"},{"row":10,"col":78,"tone":"t1"},{"row":10,"col":79,"tone":"t1"},{"row":10,"col":80,"tone":"t1"},{"row":10,"col":81,"tone":"t1"},
{"row":17.25,"col":0,"tone":"G"},{"row":17.25,"col":1,"tone":"G"},{"row":17.25,"col":2,"tone":"B"},{"row":17.25,"col":3,"tone":"B"},{"row":17.25,"col":4,"tone":"B"},{"row":17.25,"col":5,"tone":"B"},{"row":17.25,"col":6,"tone":"C"},{"row":17.25,"col":7,"tone":"C"},{"row":17.25,"col":8,"tone":"B"},{"row":17.25,"col":9,"tone":"B"},{"row":17.25,"col":10,"tone":"G"},{"row":17.25,"col":11,"tone":"G"},{"row":17.25,"col":12,"tone":"B"},{"row":17.25,"col":13,"tone":"B"},{"row":17.25,"col":14,"tone":"B"},{"row":17.25,"col":15,"tone":"B"},{"row":17.25,"col":16,"tone":"A"},{"row":17.25,"col":17,"tone":"A"},{"row":17.25,"col":18,"tone":"H"},{"row":17.25,"col":19,"tone":"H"},{"row":17.25,"col":20,"tone":"C"},{"row":17.25,"col":21,"tone":"C"},{"row":17.25,"col":22,"tone":"L"},{"row":17.25,"col":23,"tone":"L"},{"row":17.25,"col":24,"tone":"H"},{"row":17.25,"col":25,"tone":"H"},{"row":17.25,"col":26,"tone":"B"},{"row":17.25,"col":27,"tone":"B"},{"row":17.25,"col":28,"tone":"C"},{"row":17.25,"col":29,"tone":"C"},{"row":17.25,"col":30,"tone":"M"},{"row":17.25,"col":31,"tone":"M"},{"row":17.25,"col":32,"tone":"K"},{"row":17.25,"col":33,"tone":"K"},{"row":17.25,"col":34,"tone":"F"},{"row":17.25,"col":35,"tone":"F"},{"row":17.25,"col":36,"tone":"G"},{"row":17.25,"col":37,"tone":"G"},{"row":17.25,"col":38,"tone":"G"},{"row":17.25,"col":39,"tone":"G"},{"row":17.25,"col":40,"tone":"C"},{"row":17.25,"col":41,"tone":"C"},{"row":17.25,"col":42,"tone":"L"},{"row":17.25,"col":43,"tone":"L"},{"row":17.25,"col":44,"tone":"A"},{"row":17.25,"col":45,"tone":"A"},{"row":17.25,"col":46,"tone":"A"},{"row":17.25,"col":47,"tone":"A"},
{"row":18.25,"col":0,"tone":"K"},{"row":18.25,"col":1,"tone":"K"},{"row":18.25,"col":2,"tone":"xs"},{"row":18.25,"col":3,"tone":"xe"},{"row":18.25,"col":4,"tone":"n"},{"row":18.25,"col":5,"tone":"n"},{"row":18.25,"col":6,"tone":"xb"},{"row":18.25,"col":7,"tone":"xd"},{"row":18.25,"col":8,"tone":"K"},{"row":18.25,"col":9,"tone":"K"},{"row":18.25,"col":10,"tone":"xs"},{"row":18.25,"col":11,"tone":"xe"},{"row":18.25,"col":12,"tone":"n"},{"row":18.25,"col":13,"tone":"n"},{"row":18.25,"col":14,"tone":"xb"},{"row":18.25,"col":15,"tone":"xd"},{"row":18.25,"col":16,"tone":"K"},{"row":18.25,"col":17,"tone":"K"},{"row":18.25,"col":18,"tone":"xs"},{"row":18.25,"col":19,"tone":"xe"},{"row":18.25,"col":20,"tone":"n"},{"row":18.25,"col":21,"tone":"n"},{"row":18.25,"col":22,"tone":"xb"},{"row":18.25,"col":23,"tone":"xd"},{"row":18.25,"col":24,"tone":"K"},{"row":18.25,"col":25,"tone":"K"},{"row":18.25,"col":26,"tone":"xs"},{"row":18.25,"col":27,"tone":"xe"},{"row":18.25,"col":28,"tone":"xn"},{"row":18.25,"col":29,"tone":"n"},{"row":18.25,"col":30,"tone":"xb"},{"row":18.25,"col":31,"tone":"xd"},{"row":18.25,"col":32,"tone":"K"},{"row":18.25,"col":33,"tone":"K"},{"row":18.25,"col":34,"tone":"xs"},{"row":18.25,"col":35,"tone":"xe"},{"row":18.25,"col":36,"tone":"xn"},{"row":18.25,"col":37,"tone":"n"},{"row":18.25,"col":38,"tone":"xb"},{"row":18.25,"col":39,"tone":"xd"},{"row":18.25,"col":40,"tone":"K"},{"row":18.25,"col":41,"tone":"K"},{"row":18.25,"col":42,"tone":"xs"},{"row":18.25,"col":43,"tone":"xe"},{"row":18.25,"col":44,"tone":"xq"},{"row":18.25,"col":45,"tone":"n"},{"row":18.25,"col":46,"tone":"xb"},{"row":18.25,"col":47,"tone":"xd"}],
"labels":[
{"text":"2026-08-15","col":-9.86,"row":-3,"tone":"green"},{"text":"Local Time","col":-9.86,"row":-2.03,"tone":"olive"},
{"text":"Sunday, 16","col":10.57,"row":-3,"tone":"yellow"},{"text":"Monday, 17","col":34.57,"row":-3,"tone":"salmon"},{"text":"Tuesday, 18","col":58.57,"row":-3,"tone":"magenta"},{"text":"Wednesday, 19","col":73.36,"row":-3,"tone":"blue"},
{"text":"Cloud Cover:","col":-9,"row":-0.1,"tone":"K"},{"text":"ECMWF Cloud:","col":-9,"row":0.9,"tone":"K"},{"text":"Transparency:","col":-9,"row":1.9,"tone":"K"},{"text":"Seeing:","col":-9,"row":2.9,"tone":"K"},{"text":"Darkness:","col":-9,"row":3.9,"tone":"gray"},
{"text":"Smoke:","col":-9,"row":6.9,"tone":"K"},{"text":"Wind:","col":-9,"row":7.9,"tone":"K"},{"text":"Humidity:","col":-9,"row":8.9,"tone":"K"},{"text":"Temperature:","col":-9,"row":9.9,"tone":"K"},
{"text":"EXTENDED Forecast. Each block is 3 hours. (A sponsored feature)","col":-10,"row":12.06,"tone":"red"},
{"text":"2026-08-19","col":-9.86,"row":13.25,"tone":"blue"},{"text":"Local Time","col":-9.86,"row":14.22,"tone":"olive"},
{"text":"Wed, 19","col":-0.36,"row":13.25,"tone":"blue"},{"text":"Thu, 20","col":7.21,"row":13.25,"tone":"green"},{"text":"Fri, 21","col":15.21,"row":13.25,"tone":"yellow"},{"text":"Sat, 22","col":23.21,"row":13.25,"tone":"salmon"},{"text":"Sun, 23","col":31.21,"row":13.25,"tone":"magenta"},{"text":"Mon, 24","col":39.21,"row":13.25,"tone":"blue"},{"text":"Tu","col":44.64,"row":13.25,"tone":"green"},
{"text":"Cloud Cover:","col":-9,"row":16.16,"tone":"K"},{"text":"ECMWF Cloud:","col":-9,"row":17.16,"tone":"K"},{"text":"Darkness:","col":-9,"row":18.16,"tone":"gray"},
{"text":"© 2026 Attilla Danko\u00a0\u00a0forecast: A.Rahill\u00a0\u00a0data:","col":13.43,"row":20.78,"tone":"K"}],
"digits":[
{"text":"S","col":0,"row":-3,"tone":"green"},{"text":"2","col":0,"row":-2.03,"tone":"green"},{"text":"3","col":0,"row":-1.125,"tone":"green"},
{"text":"0","col":1,"row":-1.125,"tone":"yellow"},{"text":"1","col":2,"row":-1.125,"tone":"yellow"},{"text":"2","col":3,"row":-1.125,"tone":"yellow"},{"text":"3","col":4,"row":-1.125,"tone":"yellow"},{"text":"4","col":5,"row":-1.125,"tone":"yellow"},{"text":"5","col":6,"row":-1.125,"tone":"yellow"},{"text":"6","col":7,"row":-1.125,"tone":"yellow"},{"text":"7","col":8,"row":-1.125,"tone":"yellow"},{"text":"8","col":9,"row":-1.125,"tone":"yellow"},{"text":"9","col":10,"row":-1.125,"tone":"yellow"},{"text":"0","col":11,"row":-1.125,"tone":"yellow"},{"text":"1","col":12,"row":-1.125,"tone":"yellow"},{"text":"2","col":13,"row":-1.125,"tone":"yellow"},{"text":"3","col":14,"row":-1.125,"tone":"yellow"},{"text":"4","col":15,"row":-1.125,"tone":"yellow"},{"text":"5","col":16,"row":-1.125,"tone":"yellow"},{"text":"6","col":17,"row":-1.125,"tone":"yellow"},{"text":"7","col":18,"row":-1.125,"tone":"yellow"},{"text":"8","col":19,"row":-1.125,"tone":"yellow"},{"text":"9","col":20,"row":-1.125,"tone":"yellow"},{"text":"0","col":21,"row":-1.125,"tone":"yellow"},{"text":"1","col":22,"row":-1.125,"tone":"yellow"},{"text":"2","col":23,"row":-1.125,"tone":"yellow"},{"text":"3","col":24,"row":-1.125,"tone":"yellow"},
{"text":"0","col":25,"row":-1.125,"tone":"salmon"},{"text":"1","col":26,"row":-1.125,"tone":"salmon"},{"text":"2","col":27,"row":-1.125,"tone":"salmon"},{"text":"3","col":28,"row":-1.125,"tone":"salmon"},{"text":"4","col":29,"row":-1.125,"tone":"salmon"},{"text":"5","col":30,"row":-1.125,"tone":"salmon"},{"text":"6","col":31,"row":-1.125,"tone":"salmon"},{"text":"7","col":32,"row":-1.125,"tone":"salmon"},{"text":"8","col":33,"row":-1.125,"tone":"salmon"},{"text":"9","col":34,"row":-1.125,"tone":"salmon"},{"text":"0","col":35,"row":-1.125,"tone":"salmon"},{"text":"1","col":36,"row":-1.125,"tone":"salmon"},{"text":"2","col":37,"row":-1.125,"tone":"salmon"},{"text":"3","col":38,"row":-1.125,"tone":"salmon"},{"text":"4","col":39,"row":-1.125,"tone":"salmon"},{"text":"5","col":40,"row":-1.125,"tone":"salmon"},{"text":"6","col":41,"row":-1.125,"tone":"salmon"},{"text":"7","col":42,"row":-1.125,"tone":"salmon"},{"text":"8","col":43,"row":-1.125,"tone":"salmon"},{"text":"9","col":44,"row":-1.125,"tone":"salmon"},{"text":"0","col":45,"row":-1.125,"tone":"salmon"},{"text":"1","col":46,"row":-1.125,"tone":"salmon"},{"text":"2","col":47,"row":-1.125,"tone":"salmon"},{"text":"3","col":48,"row":-1.125,"tone":"salmon"},
{"text":"0","col":49,"row":-1.125,"tone":"magenta"},{"text":"1","col":50,"row":-1.125,"tone":"magenta"},{"text":"2","col":51,"row":-1.125,"tone":"magenta"},{"text":"3","col":52,"row":-1.125,"tone":"magenta"},{"text":"4","col":53,"row":-1.125,"tone":"magenta"},{"text":"5","col":54,"row":-1.125,"tone":"magenta"},{"text":"6","col":55,"row":-1.125,"tone":"magenta"},{"text":"7","col":56,"row":-1.125,"tone":"magenta"},{"text":"8","col":57,"row":-1.125,"tone":"magenta"},{"text":"9","col":58,"row":-1.125,"tone":"magenta"},{"text":"0","col":59,"row":-1.125,"tone":"magenta"},{"text":"1","col":60,"row":-1.125,"tone":"magenta"},{"text":"2","col":61,"row":-1.125,"tone":"magenta"},{"text":"3","col":62,"row":-1.125,"tone":"magenta"},{"text":"4","col":63,"row":-1.125,"tone":"magenta"},{"text":"5","col":64,"row":-1.125,"tone":"magenta"},{"text":"6","col":65,"row":-1.125,"tone":"magenta"},{"text":"7","col":66,"row":-1.125,"tone":"magenta"},{"text":"8","col":67,"row":-1.125,"tone":"magenta"},{"text":"9","col":68,"row":-1.125,"tone":"magenta"},{"text":"0","col":69,"row":-1.125,"tone":"magenta"},{"text":"1","col":70,"row":-1.125,"tone":"magenta"},{"text":"2","col":71,"row":-1.125,"tone":"magenta"},{"text":"3","col":72,"row":-1.125,"tone":"magenta"},
{"text":"0","col":73,"row":-1.125,"tone":"blue"},{"text":"1","col":74,"row":-1.125,"tone":"blue"},{"text":"2","col":75,"row":-1.125,"tone":"blue"},{"text":"3","col":76,"row":-1.125,"tone":"blue"},{"text":"4","col":77,"row":-1.125,"tone":"blue"},{"text":"5","col":78,"row":-1.125,"tone":"blue"},{"text":"6","col":79,"row":-1.125,"tone":"blue"},{"text":"7","col":80,"row":-1.125,"tone":"blue"},{"text":"8","col":81,"row":-1.125,"tone":"blue"},
{"text":"1","col":11,"row":-2.03,"tone":"yellow"},{"text":"1","col":12,"row":-2.03,"tone":"yellow"},{"text":"1","col":13,"row":-2.03,"tone":"yellow"},{"text":"1","col":14,"row":-2.03,"tone":"yellow"},{"text":"1","col":15,"row":-2.03,"tone":"yellow"},{"text":"1","col":16,"row":-2.03,"tone":"yellow"},{"text":"1","col":17,"row":-2.03,"tone":"yellow"},{"text":"1","col":18,"row":-2.03,"tone":"yellow"},{"text":"1","col":19,"row":-2.03,"tone":"yellow"},{"text":"1","col":20,"row":-2.03,"tone":"yellow"},{"text":"2","col":21,"row":-2.03,"tone":"yellow"},{"text":"2","col":22,"row":-2.03,"tone":"yellow"},{"text":"2","col":23,"row":-2.03,"tone":"yellow"},{"text":"2","col":24,"row":-2.03,"tone":"yellow"},
{"text":"1","col":35,"row":-2.03,"tone":"salmon"},{"text":"1","col":36,"row":-2.03,"tone":"salmon"},{"text":"1","col":37,"row":-2.03,"tone":"salmon"},{"text":"1","col":38,"row":-2.03,"tone":"salmon"},{"text":"1","col":39,"row":-2.03,"tone":"salmon"},{"text":"1","col":40,"row":-2.03,"tone":"salmon"},{"text":"1","col":41,"row":-2.03,"tone":"salmon"},{"text":"1","col":42,"row":-2.03,"tone":"salmon"},{"text":"1","col":43,"row":-2.03,"tone":"salmon"},{"text":"1","col":44,"row":-2.03,"tone":"salmon"},{"text":"2","col":45,"row":-2.03,"tone":"salmon"},{"text":"2","col":46,"row":-2.03,"tone":"salmon"},{"text":"2","col":47,"row":-2.03,"tone":"salmon"},{"text":"2","col":48,"row":-2.03,"tone":"salmon"},
{"text":"1","col":59,"row":-2.03,"tone":"magenta"},{"text":"1","col":60,"row":-2.03,"tone":"magenta"},{"text":"1","col":61,"row":-2.03,"tone":"magenta"},{"text":"1","col":62,"row":-2.03,"tone":"magenta"},{"text":"1","col":63,"row":-2.03,"tone":"magenta"},{"text":"1","col":64,"row":-2.03,"tone":"magenta"},{"text":"1","col":65,"row":-2.03,"tone":"magenta"},{"text":"1","col":66,"row":-2.03,"tone":"magenta"},{"text":"1","col":67,"row":-2.03,"tone":"magenta"},{"text":"1","col":68,"row":-2.03,"tone":"magenta"},{"text":"2","col":69,"row":-2.03,"tone":"magenta"},{"text":"2","col":70,"row":-2.03,"tone":"magenta"},{"text":"2","col":71,"row":-2.03,"tone":"magenta"},{"text":"2","col":72,"row":-2.03,"tone":"magenta"},
{"text":"1","col":0,"row":14.22,"tone":"blue"},{"text":"1","col":1,"row":14.22,"tone":"blue"},{"text":"1","col":2,"row":14.22,"tone":"blue"},{"text":"2","col":3,"row":14.22,"tone":"blue"},{"text":"2","col":4,"row":14.22,"tone":"blue"},
{"text":"1","col":8,"row":14.22,"tone":"green"},{"text":"1","col":9,"row":14.22,"tone":"green"},{"text":"1","col":10,"row":14.22,"tone":"green"},{"text":"2","col":11,"row":14.22,"tone":"green"},{"text":"2","col":12,"row":14.22,"tone":"green"},
{"text":"1","col":16,"row":14.22,"tone":"yellow"},{"text":"1","col":17,"row":14.22,"tone":"yellow"},{"text":"1","col":18,"row":14.22,"tone":"yellow"},{"text":"2","col":19,"row":14.22,"tone":"yellow"},{"text":"2","col":20,"row":14.22,"tone":"yellow"},
{"text":"1","col":24,"row":14.22,"tone":"salmon"},{"text":"1","col":25,"row":14.22,"tone":"salmon"},{"text":"1","col":26,"row":14.22,"tone":"salmon"},{"text":"2","col":27,"row":14.22,"tone":"salmon"},{"text":"2","col":28,"row":14.22,"tone":"salmon"},
{"text":"1","col":32,"row":14.22,"tone":"magenta"},{"text":"1","col":33,"row":14.22,"tone":"magenta"},{"text":"1","col":34,"row":14.22,"tone":"magenta"},{"text":"2","col":35,"row":14.22,"tone":"magenta"},{"text":"2","col":36,"row":14.22,"tone":"magenta"},
{"text":"1","col":40,"row":14.22,"tone":"blue"},{"text":"1","col":41,"row":14.22,"tone":"blue"},{"text":"1","col":42,"row":14.22,"tone":"blue"},{"text":"2","col":43,"row":14.22,"tone":"blue"},{"text":"2","col":44,"row":14.22,"tone":"blue"},
{"text":"1","col":0,"row":15.125,"tone":"blue"},{"text":"4","col":1,"row":15.125,"tone":"blue"},{"text":"7","col":2,"row":15.125,"tone":"blue"},{"text":"0","col":3,"row":15.125,"tone":"blue"},{"text":"3","col":4,"row":15.125,"tone":"blue"},
{"text":"2","col":5,"row":15.125,"tone":"green"},{"text":"5","col":6,"row":15.125,"tone":"green"},{"text":"8","col":7,"row":15.125,"tone":"green"},{"text":"1","col":8,"row":15.125,"tone":"green"},{"text":"4","col":9,"row":15.125,"tone":"green"},{"text":"7","col":10,"row":15.125,"tone":"green"},{"text":"0","col":11,"row":15.125,"tone":"green"},{"text":"3","col":12,"row":15.125,"tone":"green"},
{"text":"2","col":13,"row":15.125,"tone":"yellow"},{"text":"5","col":14,"row":15.125,"tone":"yellow"},{"text":"8","col":15,"row":15.125,"tone":"yellow"},{"text":"1","col":16,"row":15.125,"tone":"yellow"},{"text":"4","col":17,"row":15.125,"tone":"yellow"},{"text":"7","col":18,"row":15.125,"tone":"yellow"},{"text":"0","col":19,"row":15.125,"tone":"yellow"},{"text":"3","col":20,"row":15.125,"tone":"yellow"},
{"text":"2","col":21,"row":15.125,"tone":"salmon"},{"text":"5","col":22,"row":15.125,"tone":"salmon"},{"text":"8","col":23,"row":15.125,"tone":"salmon"},{"text":"1","col":24,"row":15.125,"tone":"salmon"},{"text":"4","col":25,"row":15.125,"tone":"salmon"},{"text":"7","col":26,"row":15.125,"tone":"salmon"},{"text":"0","col":27,"row":15.125,"tone":"salmon"},{"text":"3","col":28,"row":15.125,"tone":"salmon"},
{"text":"2","col":29,"row":15.125,"tone":"magenta"},{"text":"5","col":30,"row":15.125,"tone":"magenta"},{"text":"8","col":31,"row":15.125,"tone":"magenta"},{"text":"1","col":32,"row":15.125,"tone":"magenta"},{"text":"4","col":33,"row":15.125,"tone":"magenta"},{"text":"7","col":34,"row":15.125,"tone":"magenta"},{"text":"0","col":35,"row":15.125,"tone":"magenta"},{"text":"3","col":36,"row":15.125,"tone":"magenta"},
{"text":"2","col":37,"row":15.125,"tone":"blue"},{"text":"5","col":38,"row":15.125,"tone":"blue"},{"text":"8","col":39,"row":15.125,"tone":"blue"},{"text":"1","col":40,"row":15.125,"tone":"blue"},{"text":"4","col":41,"row":15.125,"tone":"blue"},{"text":"7","col":42,"row":15.125,"tone":"blue"},{"text":"0","col":43,"row":15.125,"tone":"blue"},{"text":"3","col":44,"row":15.125,"tone":"blue"},
{"text":"2","col":45,"row":15.125,"tone":"green"},{"text":"5","col":46,"row":15.125,"tone":"green"},{"text":"8","col":47,"row":15.125,"tone":"green"}],
"title":[{"text":"Scarborough","col":24.29,"row":-4.44,"tone":"yellow"},{"text":"Clear Sky Chart","col":34.57,"row":-4.44,"tone":"teal"}],
"small":[{"text":"(GMT -4+0)","col":-9.8,"row":-1.28,"tone":"olive"},{"text":"(GMT -4+0)","col":-9.8,"row":14.97,"tone":"olive"},
{"text":"Environment","col":49.21,"row":20.625,"tone":"black"},{"text":"Canada","col":49.21,"row":21.125,"tone":"black"},{"text":"Environnement","col":53.79,"row":20.625,"tone":"black"},{"text":"Canada","col":53.79,"row":21.125,"tone":"black"}],
"side":[{"text":"- - Sky - -","col":-9.57,"row":2,"tone":"yellow"},{"text":"- Ground -","col":-9.57,"row":8.5,"tone":"K"},{"text":"- Sky -","col":-9.57,"row":17.25,"tone":"yellow"}],
"leaf":[{"col":47.25,"row":20.86,"tone":"red"}]
},
"encoding":{
"x":{"field":"col","type":"quantitative","axis":null,"scale":{"domain":[-10,81.7142857],"nice":false,"zero":false}},
"y":{"field":"row","type":"quantitative","axis":null,"scale":{"domain":[-5.1875,21.3125],"reverse":true,"nice":false,"zero":false}},
"color":{"field":"tone","type":"nominal","legend":null,"scale":{
"domain":["A","B","C","D","E","F","G","H","I","J","K","L","M","yo","ye","o","ro","r","dr","lg","mt","cy","t1","t2","t3","n","red","green","yellow","salmon","magenta","blue","olive","gray","teal","black","skybar","groundbar"],
"range":["#003f7f","#0f4c8f","#135897","#2a6aac","#4a8ad0","#63a3e3","#76b6f8","#95d5d5","#a8e8e8","#baffff","#ffffff","#e6e6e6","#c0c0c0","#ffc800","#ebff14","#ff8a00","#ff3400","#e80000","#b80000","#9fff5f","#5fffaf","#00ffea","#ff5e00","#ff1e00","#ff9f00","#000058","#ff0000","#70ff70","#ffff00","#ff7070","#ff00ff","#7070ff","#c8c800","#b0b0b0","#00c8c8","#000000","#0060e0","#556b00"]}}
},
"layer":[
{"data":{"name":"boxes"},"mark":{"type":"rect"},"encoding":{"x2":{"field":"col2"},"y2":{"field":"row2"}}},
{"data":{"name":"cells"},"mark":{"type":"square","size":144,"opacity":1},"encoding":{"color":{"field":"tone","type":"nominal","legend":null,"condition":[
{"test":"datum.tone==='n1'","value":{"gradient":"linear","x1":0,"y1":0,"x2":1,"y2":0,"stops":[{"offset":0,"color":"#000058"},{"offset":1,"color":"#000088"}]}},
{"test":"datum.tone==='d1'","value":{"gradient":"linear","x1":0,"y1":0,"x2":1,"y2":0,"stops":[{"offset":0,"color":"#000a8c"},{"offset":0.25,"color":"#0040d0"},{"offset":0.5,"color":"#0070f0"},{"offset":1,"color":"#0074f4"}]}},
{"test":"datum.tone==='d2'","value":{"gradient":"linear","x1":0,"y1":0,"x2":1,"y2":0,"stops":[{"offset":0,"color":"#0070f0"},{"offset":0.55,"color":"#0080f0"},{"offset":0.65,"color":"#30b0c0"},{"offset":0.75,"color":"#e0b050"},{"offset":1,"color":"#ffb060"}]}},
{"test":"datum.tone==='d3'","value":{"gradient":"linear","x1":0,"y1":0,"x2":1,"y2":0,"stops":[{"offset":0,"color":"#ffbe70"},{"offset":1,"color":"#ffe6c4"}]}},
{"test":"datum.tone==='d4'","value":{"gradient":"linear","x1":0,"y1":0,"x2":1,"y2":0,"stops":[{"offset":0,"color":"#ffeed4"},{"offset":1,"color":"#fff6e6"}]}},
{"test":"datum.tone==='d5'","value":{"gradient":"linear","x1":0,"y1":0,"x2":1,"y2":0,"stops":[{"offset":0,"color":"#fff8ee"},{"offset":1,"color":"#fffdf9"}]}},
{"test":"datum.tone==='s1'","value":{"gradient":"linear","x1":0,"y1":0,"x2":1,"y2":0,"stops":[{"offset":0,"color":"#fffefc"},{"offset":1,"color":"#fff9f0"}]}},
{"test":"datum.tone==='s2'","value":{"gradient":"linear","x1":0,"y1":0,"x2":1,"y2":0,"stops":[{"offset":0,"color":"#fff8ee"},{"offset":1,"color":"#fff2e0"}]}},
{"test":"datum.tone==='s3'","value":{"gradient":"linear","x1":0,"y1":0,"x2":1,"y2":0,"stops":[{"offset":0,"color":"#fff0dc"},{"offset":1,"color":"#ffd9a8"}]}},
{"test":"datum.tone==='s4'","value":{"gradient":"linear","x1":0,"y1":0,"x2":1,"y2":0,"stops":[{"offset":0,"color":"#ffd8a0"},{"offset":1,"color":"#ffa030"}]}},
{"test":"datum.tone==='s5'","value":{"gradient":"linear","x1":0,"y1":0,"x2":1,"y2":0,"stops":[{"offset":0,"color":"#ffb040"},{"offset":0.15,"color":"#40c0b0"},{"offset":0.3,"color":"#0078f0"},{"offset":1,"color":"#0070f0"}]}},
{"test":"datum.tone==='s6'","value":{"gradient":"linear","x1":0,"y1":0,"x2":1,"y2":0,"stops":[{"offset":0,"color":"#0078f0"},{"offset":0.6,"color":"#0070f0"},{"offset":0.8,"color":"#0020b0"},{"offset":1,"color":"#000a70"}]}},
{"test":"datum.tone==='xs'","value":{"gradient":"linear","x1":0,"y1":0,"x2":1,"y2":0,"stops":[{"offset":0,"color":"#fff6ea"},{"offset":1,"color":"#ffc888"}]}},
{"test":"datum.tone==='xe'","value":{"gradient":"linear","x1":0,"y1":0,"x2":1,"y2":0,"stops":[{"offset":0,"color":"#60e0b0"},{"offset":0.2,"color":"#00a0f0"},{"offset":0.5,"color":"#0070f0"},{"offset":0.7,"color":"#0030c0"},{"offset":1,"color":"#000080"}]}},
{"test":"datum.tone==='xb'","value":{"gradient":"linear","x1":0,"y1":0,"x2":1,"y2":0,"stops":[{"offset":0,"color":"#0060e0"},{"offset":0.62,"color":"#0080f0"},{"offset":0.7,"color":"#f0a850"},{"offset":1,"color":"#ffc080"}]}},
{"test":"datum.tone==='xd'","value":{"gradient":"linear","x1":0,"y1":0,"x2":1,"y2":0,"stops":[{"offset":0,"color":"#ffdcb0"},{"offset":1,"color":"#fff6ea"}]}},
{"test":"datum.tone==='xn'","value":{"gradient":"linear","x1":0,"y1":0,"x2":1,"y2":0,"stops":[{"offset":0,"color":"#000098"},{"offset":1,"color":"#000068"}]}},
{"test":"datum.tone==='xq'","value":{"gradient":"linear","x1":0,"y1":0,"x2":1,"y2":0,"stops":[{"offset":0,"color":"#0030c8"},{"offset":1,"color":"#0020a8"}]}}
]}}},
{"data":{"name":"links"},"mark":{"type":"tick","orient":"vertical","size":8,"thickness":2,"xOffset":7,"opacity":1}},
{"data":{"name":"rules"},"mark":{"type":"rule","strokeWidth":2,"xOffset":-6},"encoding":{"y2":{"field":"row2"}}},
{"data":{"name":"labels"},"mark":{"type":"text","align":"left","baseline":"middle","fontSize":15,"font":"Liberation Mono"},"encoding":{"text":{"field":"text"}}},
{"data":{"name":"digits"},"mark":{"type":"text","align":"center","baseline":"middle","fontSize":15,"font":"Liberation Mono"},"encoding":{"text":{"field":"text"}}},
{"data":{"name":"title"},"mark":{"type":"text","align":"left","baseline":"middle","fontSize":20,"fontWeight":"bold","font":"Liberation Mono"},"encoding":{"text":{"field":"text"}}},
{"data":{"name":"small"},"mark":{"type":"text","align":"left","baseline":"middle","fontSize":8,"font":"Liberation Mono"},"encoding":{"text":{"field":"text"}}},
{"data":{"name":"side"},"mark":{"type":"text","align":"center","baseline":"middle","angle":270,"fontSize":9.5,"font":"Liberation Mono"},"encoding":{"text":{"field":"text"}}},
{"data":{"name":"leaf"},"mark":{"type":"point","filled":true,"opacity":1,"size":100,"shape":"M0,-1 L.2,-.6 L.4,-.7 L.3,-.2 L.7,-.4 L.6,-.1 L.9,0 L.5,.4 L.55,.55 L.1,.45 L.1,.9 L-.1,.9 L-.1,.45 L-.55,.55 L-.5,.4 L-.9,0 L-.6,-.1 L-.7,-.4 L-.3,-.2 L-.4,-.7 L-.2,-.6 Z"}}
]
}
